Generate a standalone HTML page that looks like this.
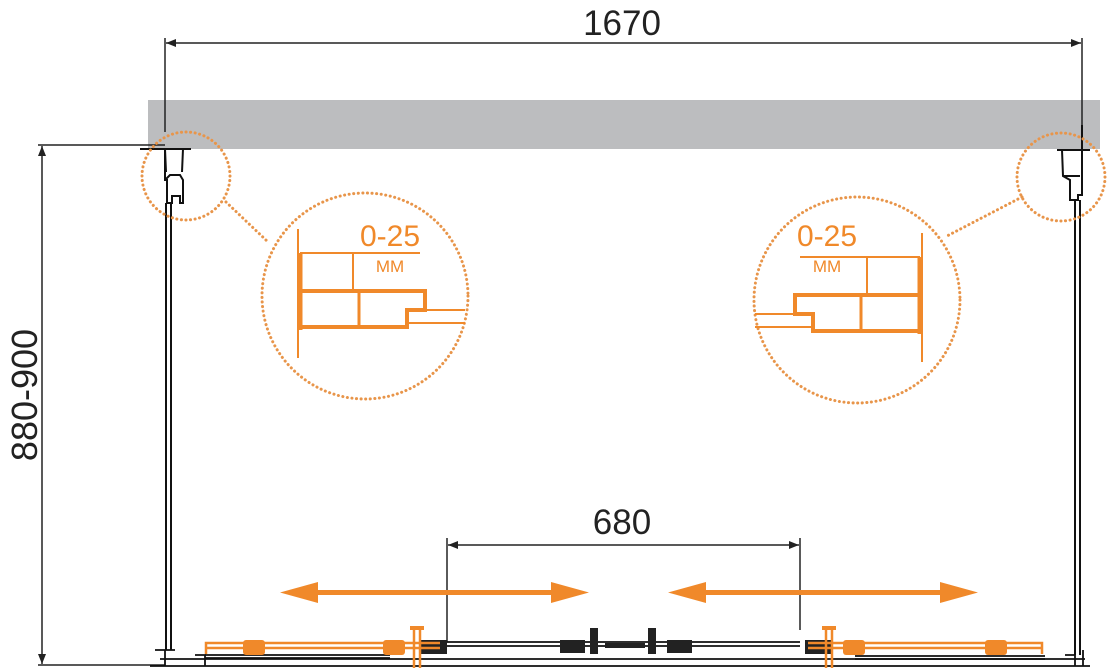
<!DOCTYPE html>
<html><head><meta charset="utf-8"><style>
html,body{margin:0;padding:0;background:#fff;width:1111px;height:670px;overflow:hidden}
svg{display:block}
text{font-family:"Liberation Sans",Arial,sans-serif}
</style></head><body>
<svg width="1111" height="670" viewBox="0 0 1111 670" xmlns="http://www.w3.org/2000/svg">
<defs>
<marker id="ab" markerWidth="10" markerHeight="8" refX="10" refY="4" orient="auto-start-reverse" markerUnits="userSpaceOnUse"><path d="M0,0 L10,4 L0,8 Z" fill="#222"/></marker>
</defs>
<!-- gray bar -->
<rect x="148" y="100" width="952" height="49" fill="#bcbdbf"/>
<!-- top dimension -->
<line x1="165" y1="38" x2="165" y2="132" stroke="#222" stroke-width="1.5"/>
<line x1="1082" y1="38" x2="1082" y2="132" stroke="#222" stroke-width="1.5"/>
<line x1="166" y1="43" x2="1081" y2="43" stroke="#222" stroke-width="1.5" marker-start="url(#ab)" marker-end="url(#ab)"/>
<text x="622" y="35" font-size="35" text-anchor="middle" fill="#222">1670</text>
<!-- left vertical dim -->
<line x1="38" y1="145" x2="165" y2="145" stroke="#222" stroke-width="1.5"/>
<line x1="38" y1="665" x2="165" y2="665" stroke="#222" stroke-width="1.5"/>
<line x1="42" y1="146" x2="42" y2="664" stroke="#222" stroke-width="1.5" marker-start="url(#ab)" marker-end="url(#ab)"/>
<text transform="translate(37,395) rotate(-90)" font-size="36" text-anchor="middle" fill="#222">880-900</text>
<!-- left wall profile -->
<g stroke="#111" stroke-width="2" fill="none">
<line x1="140" y1="149" x2="191" y2="149"/>
<path d="M165,149 L165,180 L167,180 L167,203 L172,203 L172,196 L180,196 L180,203 L183,203 L183,180 L180,175 L170,175 L165,180"/>
<path d="M165,149 L166,172 M183,149 L182,172"/>
<line x1="166" y1="203" x2="166" y2="650"/>
<line x1="171" y1="203" x2="171" y2="650"/>
</g>
<!-- right wall profile -->
<g stroke="#111" stroke-width="2" fill="none">
<line x1="1057" y1="150" x2="1090" y2="150"/>
<line x1="1082" y1="125" x2="1082" y2="150"/>
<path d="M1062,150 L1063,176 L1070,180 L1070,200 L1078,200 L1078,195 L1082,195 L1082,150"/>
<path d="M1063,176 L1080,176"/>
<line x1="1075" y1="200" x2="1075" y2="655"/>
<line x1="1080" y1="200" x2="1080" y2="655"/>
</g>
<!-- dotted circles -->
<g stroke="#e8954a" stroke-width="3" fill="none" stroke-dasharray="0.1 4.5" stroke-linecap="round">
<circle cx="186" cy="176" r="44"/>
<circle cx="365" cy="296" r="103"/>
<line x1="226" y1="202" x2="268" y2="242"/>
<circle cx="1061" cy="177" r="44"/>
<circle cx="857" cy="300" r="103"/>
<line x1="1022" y1="197" x2="947" y2="236"/>
</g>
<!-- left detail -->
<g stroke="#f0892a" fill="none">
<line x1="298" y1="229" x2="298" y2="358" stroke-width="2"/>
<line x1="300" y1="253" x2="420" y2="253" stroke-width="2"/>
<line x1="353" y1="253" x2="353" y2="290" stroke-width="2"/>
<line x1="300" y1="253" x2="300" y2="330" stroke-width="5"/>
<path d="M302,291 L425,291 L425,310 L407,310 L407,327 L302,327" stroke-width="4"/>
<line x1="359" y1="291" x2="359" y2="327" stroke-width="3"/>
<line x1="407" y1="310" x2="465" y2="310" stroke-width="2"/>
<line x1="407" y1="323" x2="465" y2="323" stroke-width="2"/>
</g>
<text x="390" y="246" font-size="30" fill="#f0892a" text-anchor="middle">0-25</text>
<text x="390" y="272" font-size="17" fill="#f0892a" text-anchor="middle">MM</text>
<!-- right detail (mirrored) -->
<g stroke="#f0892a" fill="none" transform="translate(1220,4) scale(-1,1)">
<line x1="298" y1="229" x2="298" y2="358" stroke-width="2"/>
<line x1="300" y1="253" x2="420" y2="253" stroke-width="2"/>
<line x1="353" y1="253" x2="353" y2="290" stroke-width="2"/>
<line x1="300" y1="253" x2="300" y2="330" stroke-width="5"/>
<path d="M302,291 L425,291 L425,310 L407,310 L407,327 L302,327" stroke-width="4"/>
<line x1="359" y1="291" x2="359" y2="327" stroke-width="3"/>
<line x1="407" y1="310" x2="465" y2="310" stroke-width="2"/>
<line x1="407" y1="323" x2="465" y2="323" stroke-width="2"/>
</g>
<text x="827" y="246" font-size="30" fill="#f0892a" text-anchor="middle">0-25</text>
<text x="827" y="272" font-size="17" fill="#f0892a" text-anchor="middle">MM</text>
<!-- 680 dimension -->
<line x1="447" y1="538" x2="447" y2="642" stroke="#222" stroke-width="1.5"/>
<line x1="800" y1="538" x2="800" y2="630" stroke="#222" stroke-width="1.5"/>
<line x1="448" y1="545" x2="799" y2="545" stroke="#222" stroke-width="1.5" marker-start="url(#ab)" marker-end="url(#ab)"/>
<text x="622" y="534" font-size="35" text-anchor="middle" fill="#222">680</text>
<!-- orange arrows -->
<g fill="#f0892a">
<rect x="300" y="590" width="268" height="5"/>
<path d="M280,592.5 L318,582 L318,603 Z"/>
<path d="M589,592.5 L551,582 L551,603 Z"/>
<rect x="688" y="590" width="270" height="5"/>
<path d="M668,592.5 L706,582 L706,603 Z"/>
<path d="M978,592.5 L940,582 L940,603 Z"/>
</g>
<!-- bottom rails -->
<g stroke="#111" fill="none" stroke-width="1.8">
<line x1="150" y1="666" x2="1090" y2="666"/>
<line x1="160" y1="659" x2="1085" y2="659"/>
<line x1="205" y1="655" x2="390" y2="655"/>
<line x1="205" y1="658" x2="390" y2="658"/>
<line x1="447" y1="642" x2="800" y2="642"/>
<line x1="447" y1="646" x2="800" y2="646"/>
<line x1="855" y1="656" x2="1045" y2="656"/>
<line x1="855" y1="659" x2="1045" y2="659"/>
<path d="M165,650 L165,666 M155,650 L175,650 M195,655 L205,655 L205,666"/>
<path d="M1083,650 L1083,666 M1065,655 L1075,655 L1075,666"/>
</g>
<g fill="#222">
<rect x="420" y="640" width="27" height="14"/>
<rect x="560" y="640" width="25" height="13"/>
<rect x="590" y="628" width="8" height="26"/>
<rect x="648" y="628" width="8" height="26"/>
<rect x="667" y="640" width="25" height="13"/>
<rect x="805" y="640" width="27" height="14"/>
<rect x="605" y="643" width="40" height="5"/>
</g>
<g stroke="#f0892a" fill="none" stroke-width="2.5">
<path d="M206,654 L206,643 L440,643"/>
<line x1="206" y1="648" x2="440" y2="648"/>
<path d="M1042,654 L1042,643 L808,643"/>
<line x1="1042" y1="648" x2="808" y2="648"/>
<line x1="414" y1="628" x2="414" y2="668"/>
<line x1="420" y1="628" x2="420" y2="668"/>
<line x1="826" y1="628" x2="826" y2="668"/>
<line x1="832" y1="628" x2="832" y2="668"/>
</g>
<g fill="#f0892a">
<rect x="243" y="640" width="22" height="15" rx="3"/>
<rect x="383" y="640" width="22" height="15" rx="3"/>
<rect x="843" y="640" width="22" height="15" rx="3"/>
<rect x="985" y="640" width="22" height="15" rx="3"/>
<rect x="410" y="626" width="14" height="4"/>
<rect x="822" y="626" width="14" height="4"/>
</g>
</svg>
</body></html>
